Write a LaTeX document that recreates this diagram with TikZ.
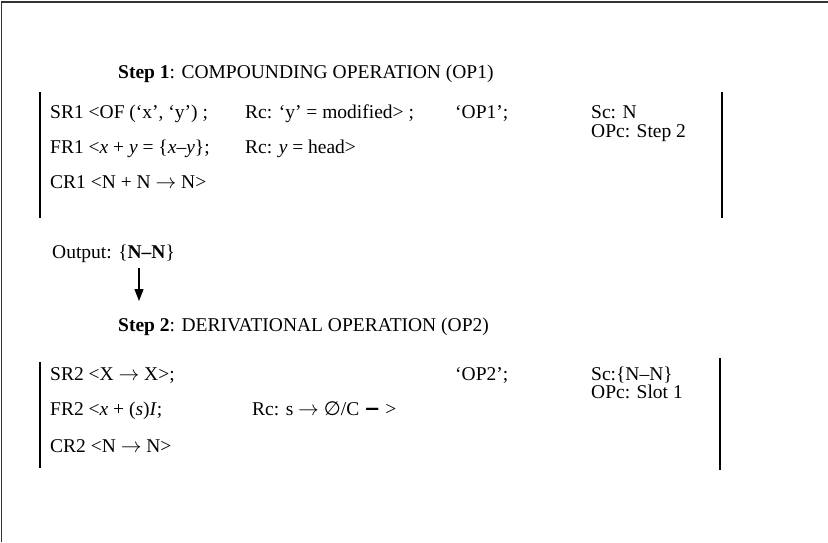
\documentclass[tikz,border=0pt]{standalone}
\usepackage{fontspec}
\setmainfont{Liberation Serif}
\newfontfamily\symfont{DejaVu Sans}
\usetikzlibrary{arrows.meta}
\newcommand{\ra}{\ensuremath{\rightarrow}}
\begin{document}
\begin{tikzpicture}[x=1pt,y=-1pt,
  txt/.style={anchor=base west,inner sep=0pt,font=\fontsize{19.5}{22}\selectfont},
  bar/.style={line width=1.3pt,black},
  frame/.style={line width=1.6pt,black!80}]
\useasboundingbox (0,0) rectangle (828,542);
% outer frame (top and left edges visible)
\draw[frame] (1.5,542) -- (1.5,2) -- (828,2);
% Step 1
\node[txt] (h1) at (118,78) {\textbf{Step 1}: COMPOUNDING OPERATION (OP1)};
\draw[bar] (40,92) -- (40,218);
\draw[bar] (722,92) -- (722,218);
\node[txt] (sr1) at (50,118) {SR1 <OF (‘x’, ‘y’) ;};
\node[txt] (rc1) at (245,118) {Rc: ‘y’ = modified> ;};
\node[txt] (op1) at (455,118) {‘OP1’;};
\node[txt] (sc1) at (591,118) {Sc: N};
\node[txt] (opc1) at (591,137) {OPc: Step 2};
\node[txt] (fr1) at (50,153) {FR1 <\textit{x} + \textit{y} = \{\textit{x}–\textit{y}\};};
\node[txt] (rc1b) at (245,153) {Rc: \textit{y} = head>};
\node[txt] (cr1) at (50,188) {CR1 <N + N \ra{} N>};
% output and arrow
\node[txt] (out) at (52,258) {Output: \{\textbf{N–N}\}};
\coordinate (atop) at (139,268);
\coordinate (abot) at (139,301);
\draw[line width=1.3pt,-{Triangle[length=12pt,width=9pt]}] (atop) -- (abot);
% Step 2
\node[txt] (h2) at (118,331) {\textbf{Step 2}: DERIVATIONAL OPERATION (OP2)};
\draw[bar] (40,362) -- (40,468);
\draw[bar] (720,358) -- (720,470);
\node[txt] (sr2) at (50,380) {SR2 <X \ra{} X>;};
\node[txt] (op2) at (455,380) {‘OP2’;};
\node[txt] (sc2) at (591,380) {Sc:\{N–N\}};
\node[txt] (opc2) at (591,398) {OPc: Slot 1};
\node[txt] (fr2) at (50,415) {FR2 <\textit{x} + (\textit{s})\textit{I};};
\node[txt] (rc2) at (252,415) {Rc: s \ra{} {\symfont ∅}/C {\symfont\bfseries −} >};
\node[txt] (cr2) at (50,452) {CR2 <N \ra{} N>};
\end{tikzpicture}
\end{document}
